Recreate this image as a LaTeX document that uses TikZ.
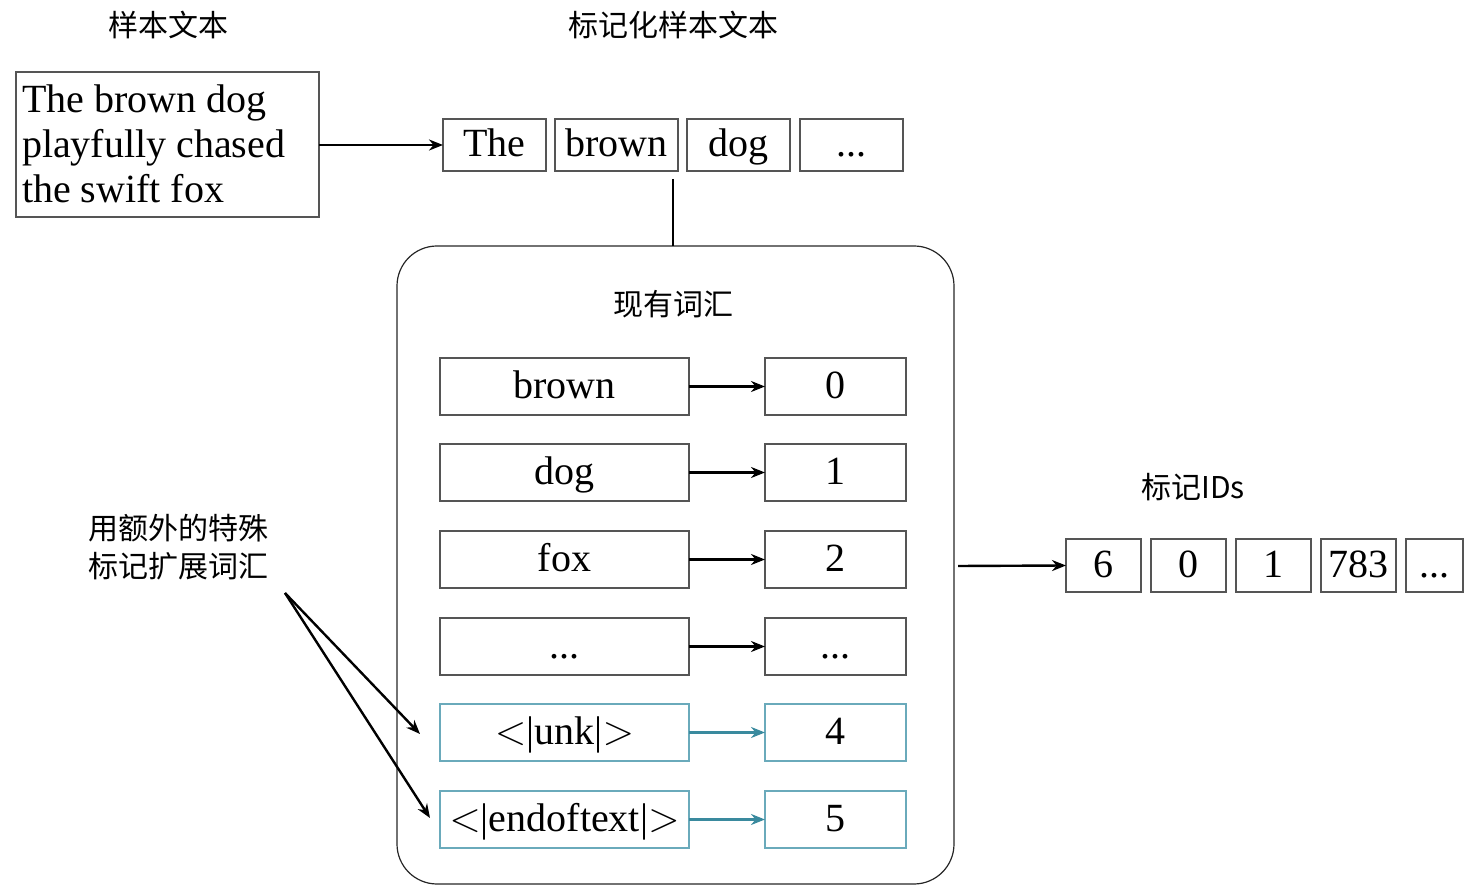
\documentclass[tikz,border=0pt]{standalone}
\usepackage{fontspec}
\setmainfont{Liberation Serif}
\newfontfamily\cjk{Noto Sans CJK SC}
\usetikzlibrary{arrows.meta}
\definecolor{tealline}{HTML}{3A8A9E}
\definecolor{tealbox}{HTML}{6AAABB}
\definecolor{boxgray}{HTML}{555555}
\newcommand{\lt}{$<$}
\newcommand{\gtr}{$>$}
\begin{document}
\begin{tikzpicture}[x=0.5pt,y=-0.5pt,
  every node/.style={inner sep=0pt,outer sep=0pt},
  lab/.style={font=\cjk\fontsize{15}{19}\selectfont},
  en/.style={font=\fontsize{20}{22.5}\selectfont},
  tok/.style={draw=boxgray,line width=0.6pt,en,anchor=north west,text height=14pt,text depth=2pt},
  tealb/.style={tok,draw=tealbox},
  arr/.style={line width=1.2pt,-{Stealth[length=7pt,width=5.5pt]}},
  tarr/.style={arr,draw=tealline,-{Stealth[length=7pt,width=5.5pt,fill=tealline]}}]
\useasboundingbox (0,0) rectangle (1467,886);

% titles
\node[lab] (t1) at (168,25) {样本文本};
\node[lab] (t2) at (673,25) {标记化样本文本};

% sample text
\node[draw=boxgray,line width=0.6pt,anchor=north west,minimum width=151.5pt,minimum height=72.5pt] (src) at (16,72) {};
\node[en,anchor=base west,align=left] (srctext) at (22,203)
  {The brown dog\\playfully chased\\the swift fox};

% token boxes
\node[tok,minimum width=51.5pt,minimum height=26pt] (k1) at (443,119) {The};
\node[tok,minimum width=61.5pt,minimum height=26pt] (k2) at (555,119) {brown};
\node[tok,minimum width=51.5pt,minimum height=26pt] (k3) at (687,119) {dog};
\node[tok,minimum width=51.5pt,minimum height=26pt] (k4) at (800,119) {...};
\draw[arr] (src.east |- 0,145) -- (k1.west);

% vocabulary
\node[draw=black!85,line width=0.6pt,rounded corners=20pt,anchor=north west,
  minimum width=278.5pt,minimum height=319pt] (vocab) at (397,246) {};
\coordinate (ktop) at (673,179);
\draw[line width=1.2pt] (ktop) -- (ktop |- vocab.north);
\node[lab] (vt) at (673,304) {现有词汇};

\node[tok,minimum width=124.5pt,minimum height=28.5pt] (w0) at (440,358) {brown};
\node[tok,minimum width=70.5pt,minimum height=28.5pt] (n0) at (765,358) {0};
\node[tok,minimum width=124.5pt,minimum height=28.5pt] (w1) at (440,444) {dog};
\node[tok,minimum width=70.5pt,minimum height=28.5pt] (n1) at (765,444) {1};
\node[tok,minimum width=124.5pt,minimum height=28.5pt] (w2) at (440,531) {fox};
\node[tok,minimum width=70.5pt,minimum height=28.5pt] (n2) at (765,531) {2};
\node[tok,minimum width=124.5pt,minimum height=28.5pt] (w3) at (440,618) {...};
\node[tok,minimum width=70.5pt,minimum height=28.5pt] (n3) at (765,618) {...};
\node[tealb,minimum width=124.5pt,minimum height=28.5pt] (w4) at (440,704) {\lt|unk|\gtr};
\node[tealb,minimum width=70.5pt,minimum height=28.5pt] (n4) at (765,704) {4};
\node[tealb,minimum width=124.5pt,minimum height=28.5pt] (w5) at (440,791) {\lt|endoftext|\gtr};
\node[tealb,minimum width=70.5pt,minimum height=28.5pt] (n5) at (765,791) {5};
\foreach \i in {0,1,2,3} {\draw[arr] (w\i.east) -- (n\i.west);}
\foreach \i in {4,5} {\draw[tarr] (w\i.east) -- (n\i.west);}

% IDs
\node[lab] (idt) at (1193,487) {标记IDs};
\node[tok,minimum width=37.5pt,minimum height=26.5pt] (i1) at (1066,539) {6};
\node[tok,minimum width=37.5pt,minimum height=26.5pt] (i2) at (1151,539) {0};
\node[tok,minimum width=37.5pt,minimum height=26.5pt] (i3) at (1236,539) {1};
\node[tok,minimum width=37.5pt,minimum height=26.5pt] (i4) at (1321,539) {783};
\node[tok,minimum width=28.5pt,minimum height=26.5pt] (i5) at (1406,539) {...};
\coordinate (vout) at (958,566);
\draw[arr] (vout) -- (i1.west);

% special tokens note
\node[lab,anchor=north west,align=left] (note) at (88,514) {用额外的特殊\\标记扩展词汇};
\coordinate (nf) at (285,593);
\coordinate (a4) at (420,734);
\coordinate (a5) at (430,818);
\draw[arr] (nf) -- (a4);
\draw[arr] (nf) -- (a5);
\end{tikzpicture}
\end{document}
